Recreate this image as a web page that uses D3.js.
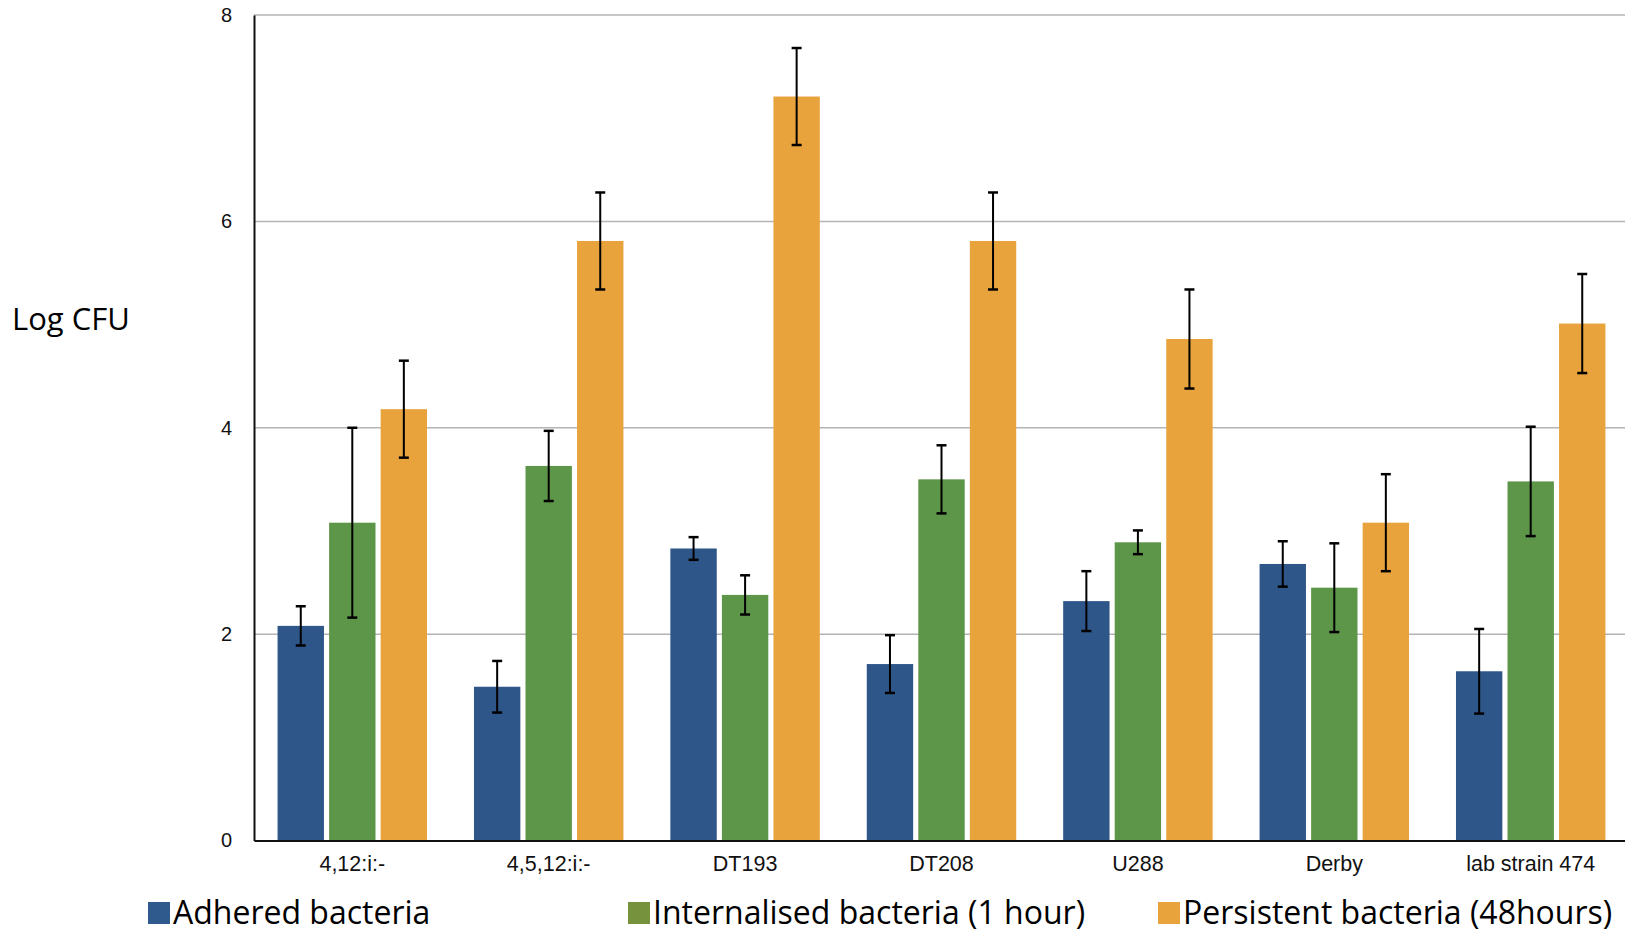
<!DOCTYPE html>
<html><head><meta charset="utf-8">
<script src="https://cdn.jsdelivr.net/npm/d3@7"></script>
<style>body{margin:0;background:#fff}svg{display:block}</style>
</head><body>
<svg id="c" width="1625" height="936"></svg>
<script>
const categories = ["4,12:i:-","4,5,12:i:-","DT193","DT208","U288","Derby","lab strain 474"];
const seriesNames = ["Adhered bacteria","Internalised bacteria (1 hour)","Persistent bacteria (48hours)"];
const adhered      = [2.08,1.49,2.83,1.71,2.32,2.68,1.64];
const adheredErr   = [0.19,0.25,0.11,0.28,0.29,0.22,0.41];
const internalised = [3.08,3.63,2.38,3.50,2.89,2.45,3.48];
const internalisedErr = [0.92,0.34,0.19,0.33,0.115,0.43,0.53];
const persistent   = [4.18,5.81,7.21,5.81,4.86,3.08,5.01];
const persistentErr= [0.47,0.47,0.47,0.47,0.48,0.47,0.48];
const yTicks = [0,2,4,6,8];

const barColors = ["#2f5689","#5e9649","#e8a33d"];
const legendColors = ["#2f5a8e","#76923c","#e8a33d"];

const svg = d3.select("#c");
const L = 254, R = 1629, T = 15, B = 840.5;
const x = d3.scaleBand().domain(categories).range([L,R]).paddingInner(0.239).paddingOuter(0.12);
const y = d3.scaleLinear().domain([0,8]).range([B,T]);
const x1 = d3.scaleBand().domain([0,1,2]).range([0,x.bandwidth()]).paddingInner(0.1);

// gridlines
svg.append("g").selectAll("line").data(yTicks.filter(d=>d>0)).join("line")
  .attr("x1",L).attr("x2",R).attr("y1",d=>y(d)).attr("y2",d=>y(d))
  .attr("stroke","#b4b4b4").attr("stroke-width",1.5);

const series = [
  {vals:adhered, errs:adheredErr},
  {vals:internalised, errs:internalisedErr},
  {vals:persistent, errs:persistentErr}
];
const data = [];
series.forEach((s,si)=>categories.forEach((c,ci)=>data.push({c,si,v:s.vals[ci],e:s.errs[ci]})));

svg.append("g").selectAll("rect").data(data).join("rect")
  .attr("x",d=>x(d.c)+x1(d.si)).attr("width",x1.bandwidth())
  .attr("y",d=>y(d.v)).attr("height",d=>B-y(d.v))
  .attr("fill",d=>barColors[d.si]);

// error bars
const eg = svg.append("g").attr("stroke","#000").attr("stroke-width",2);
data.forEach(d=>{
  const cx = x(d.c)+x1(d.si)+x1.bandwidth()/2;
  eg.append("line").attr("x1",cx).attr("x2",cx).attr("y1",y(d.v+d.e)).attr("y2",y(d.v-d.e));
  [d.v+d.e,d.v-d.e].forEach(v=>eg.append("line").attr("x1",cx-5).attr("x2",cx+5).attr("y1",y(v)).attr("y2",y(v)).attr("stroke-width",2.5));
});

// axes
const yAxis = svg.append("g").attr("transform",`translate(${L},0)`)
  .call(d3.axisLeft(y).tickValues(yTicks).tickSize(0).tickPadding(22).tickFormat(d3.format("d")));
yAxis.select(".domain").attr("stroke","#111").attr("stroke-width",2);
yAxis.selectAll("text").attr("font-family","Liberation Sans, Arial, sans-serif").attr("font-size",20).attr("fill","#111");

const xAxis = svg.append("g").attr("transform",`translate(0,${B})`)
  .call(d3.axisBottom(x).tickSize(0).tickPadding(15));
xAxis.select(".domain").attr("stroke","#111").attr("stroke-width",2);
xAxis.selectAll("text").attr("font-family","Liberation Sans, Arial, sans-serif").attr("font-size",21.5).attr("fill","#111");

svg.append("text").attr("x",12).attr("y",330).text("Log CFU")
  .attr("font-family","Open Sans, sans-serif").attr("font-size",31).attr("fill","#000");

// legend
const legX = [148,628,1158];
const lg = svg.append("g");
seriesNames.forEach((n,i)=>{
  lg.append("rect").attr("x",legX[i]).attr("y",902).attr("width",22).attr("height",22).attr("fill",legendColors[i]);
  lg.append("text").attr("x",legX[i]+25).attr("y",924).text(n)
    .attr("font-family","Open Sans, sans-serif").attr("font-size",32).attr("fill","#000");
});
</script>
</body></html>
